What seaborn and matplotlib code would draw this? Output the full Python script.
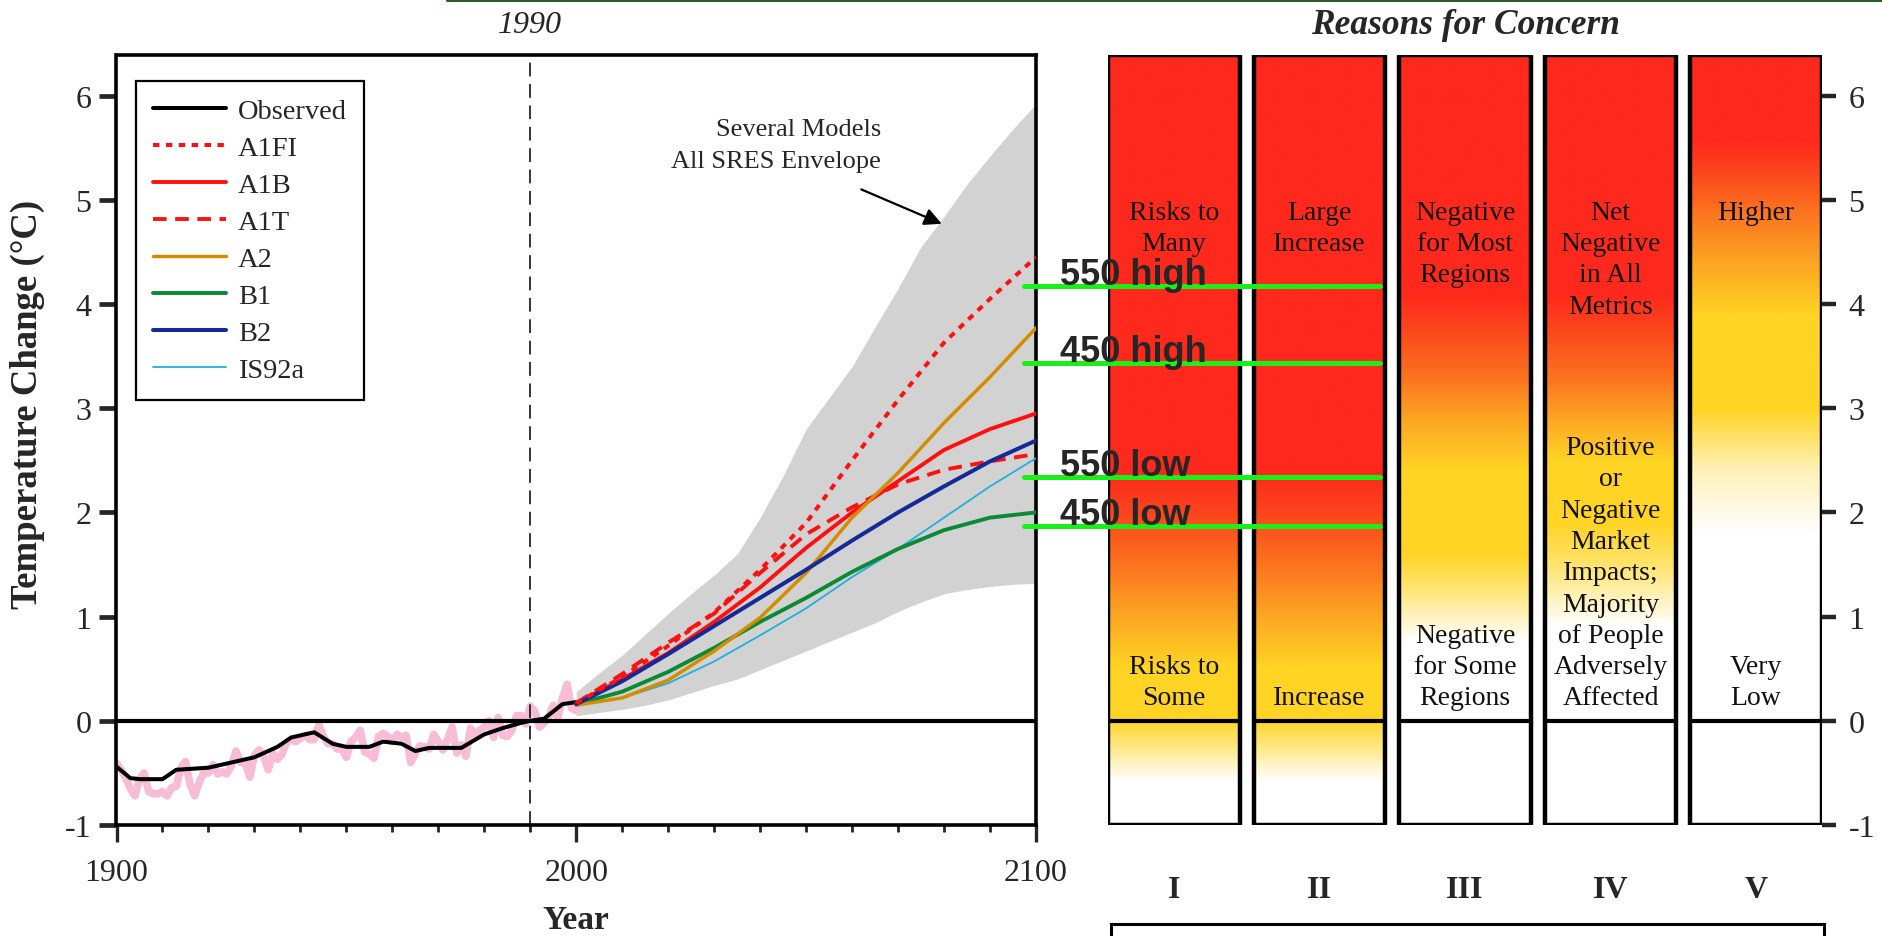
import numpy as np
import pandas as pd
import matplotlib
matplotlib.use("Agg")
import matplotlib.pyplot as plt
import seaborn as sns
from matplotlib.colors import LinearSegmentedColormap, to_rgb
from matplotlib.patches import Rectangle
from matplotlib.lines import Line2D

sns.set_style("white")
plt.rcParams["font.family"] = ["Liberation Serif", "DejaVu Serif"]
plt.rcParams["axes.unicode_minus"] = False

# ---------------- data ----------------
# smoothed observed record (deg C relative to 1990)
obs_years = [1900, 1903, 1905, 1910, 1913, 1920, 1925, 1930, 1935, 1938, 1943,
             1947, 1950, 1955, 1958, 1962, 1965, 1968, 1975, 1980, 1984, 1988,
             1990, 1993, 1997, 2000]
obs_smooth = [-0.44, -0.55, -0.56, -0.56, -0.47, -0.45, -0.40, -0.35, -0.25, -0.16,
              -0.11, -0.22, -0.25, -0.25, -0.20, -0.22, -0.29, -0.26, -0.26, -0.13,
              -0.07, -0.02, 0.00, 0.02, 0.16, 0.18]

# annual observed values 1900-2000
annual_years = list(range(1900, 2001))
annual_anom = [-0.41, -0.47, -0.55, -0.65, -0.72, -0.56, -0.50, -0.68, -0.70, -0.70,
               -0.68, -0.72, -0.64, -0.63, -0.45, -0.39, -0.61, -0.72, -0.59, -0.50,
               -0.50, -0.42, -0.51, -0.49, -0.51, -0.43, -0.29, -0.40, -0.40, -0.54,
               -0.33, -0.28, -0.34, -0.47, -0.31, -0.37, -0.32, -0.21, -0.18, -0.20,
               -0.17, -0.14, -0.18, -0.18, -0.04, -0.15, -0.22, -0.22, -0.27, -0.27,
               -0.35, -0.20, -0.16, -0.09, -0.30, -0.32, -0.36, -0.15, -0.12, -0.15,
               -0.20, -0.13, -0.16, -0.14, -0.40, -0.31, -0.24, -0.25, -0.27, -0.13,
               -0.20, -0.28, -0.18, -0.06, -0.31, -0.23, -0.34, -0.07, -0.15, -0.09,
               -0.06, 0.00, -0.16, 0.03, -0.14, -0.15, -0.09, 0.05, 0.05, -0.03,
               0.14, 0.09, -0.06, -0.02, 0.03, 0.15, 0.03, 0.22, 0.35, 0.12, 0.10]

# SRES scenario projections
proj_years = [2000, 2010, 2020, 2030, 2040, 2050, 2060, 2070, 2080, 2090, 2100]
a1fi = [0.17, 0.42, 0.72, 1.04, 1.45, 1.90, 2.50, 3.08, 3.63, 4.05, 4.45]
a1b = [0.17, 0.40, 0.65, 0.95, 1.28, 1.66, 2.00, 2.30, 2.60, 2.80, 2.95]
a1t = [0.17, 0.45, 0.75, 1.03, 1.42, 1.79, 2.05, 2.27, 2.41, 2.49, 2.56]
a2 = [0.15, 0.22, 0.39, 0.67, 0.99, 1.42, 1.95, 2.38, 2.86, 3.30, 3.77]
b1 = [0.16, 0.28, 0.47, 0.70, 0.95, 1.18, 1.43, 1.65, 1.83, 1.95, 2.00]
b2 = [0.16, 0.38, 0.64, 0.91, 1.18, 1.45, 1.73, 2.00, 2.25, 2.49, 2.69]
is92a = [0.15, 0.22, 0.36, 0.57, 0.82, 1.08, 1.38, 1.65, 1.95, 2.25, 2.52]

# all-SRES envelope
env_years = list(range(2000, 2101, 5))
env_upper = [0.28, 0.46, 0.63, 0.83, 1.03, 1.22, 1.40, 1.60, 1.95, 2.35, 2.80,
             3.10, 3.40, 3.78, 4.15, 4.55, 4.84, 5.15, 5.42, 5.68, 5.92]
env_lower = [0.05, 0.08, 0.11, 0.15, 0.20, 0.27, 0.34, 0.40, 0.49, 0.58, 0.67,
             0.76, 0.85, 0.94, 1.05, 1.14, 1.22, 1.26, 1.29, 1.31, 1.32]

# stabilisation markers
thresholds = [4.17, 3.43, 2.34, 1.87]
threshold_labels = ["550 high", "450 high", "550 low", "450 low"]

# reasons for concern
concern_ids = ["I", "II", "III", "IV", "V"]
concern_high = ["Risks to\nMany", "Large\nIncrease", "Negative\nfor Most\nRegions",
                "Net\nNegative\nin All\nMetrics", "Higher"]
concern_low = ["Risks to\nSome", "Increase", "Negative\nfor Some\nRegions",
               "Positive\nor\nNegative\nMarket\nImpacts;\nMajority\nof People\nAdversely\nAffected",
               "Very\nLow"]
W, LY, Y, O1, O2, O3, R = "#ffffff", "#ffe36a", "#ffd424", "#fca623", "#fb731e", "#fc431c", "#fe281c"
ember_stops = [
    [(-1.0, W), (-0.6, W), (0.0, Y), (0.5, Y), (1.0, O1), (1.5, O2), (2.0, O3), (2.4, R)],
    [(-1.0, W), (-0.6, W), (0.0, Y), (0.5, Y), (1.0, O1), (1.5, O2), (2.0, O3), (2.4, R)],
    [(0.0, W), (0.75, W), (1.3, LY), (1.6, Y), (2.4, Y), (2.9, O1), (3.3, O2), (3.8, O3), (4.1, R)],
    [(0.0, W), (0.9, W), (1.5, LY), (1.9, Y), (2.5, Y), (2.9, O1), (3.3, O2), (3.8, O3), (4.1, R)],
    [(0.0, W), (1.8, W), (2.4, "#fff2b8"), (3.0, Y), (3.9, Y), (4.4, O1), (4.9, O2), (5.3, O3), (5.6, R)],
]

# ---------------- figure ----------------
FW, FH = 1883, 937
fig = plt.figure(figsize=(FW / 100, FH / 100), dpi=100)
YMIN, YMAX = -1.0, 6.39

ax = fig.add_axes([116.5 / FW, 1 - 826 / FH, 919.5 / FW, 770 / FH])
ax2 = fig.add_axes([1108 / FW, 1 - 826 / FH, 714 / FW, 770 / FH])

# envelope
ax.fill_between(env_years, env_lower, env_upper, color="#d2d2d2", lw=0, zorder=1)

# observed
sns.lineplot(x=annual_years, y=annual_anom, color="#f8bcd6", lw=5.5, ax=ax, zorder=2)
sns.lineplot(x=obs_years, y=obs_smooth, color="black", lw=2.9, ax=ax, zorder=4,
             label="Observed")

series = [
    ("IS92a", is92a, "#22aede", 1.3, None),
    ("B1", b1, "#0a8a36", 2.8, None),
    ("A1T", a1t, "#ff1010", 2.8, (3.5, 2.2)),
    ("A1B", a1b, "#ff1010", 2.8, None),
    ("A2", a2, "#d48c00", 2.5, None),
    ("B2", b2, "#142a96", 2.9, None),
    ("A1FI", a1fi, "#ff1010", 2.9, (1.6, 1.6)),
]
for name, vals, col, lw, dash in series:
    sns.lineplot(x=proj_years, y=vals, color=col, lw=lw, ax=ax, zorder=5, label=name)
    if dash is not None:
        ax.lines[-1].set_dashes(dash)

ax.axhline(0, color="black", lw=3.0, zorder=6)
ax.axvline(1990, color="black", lw=1.1, dashes=(9, 5), zorder=6)

ax.set_xlim(1900, 2100)
ax.set_ylim(YMIN, YMAX)
ax.set_xticks([1900, 2000, 2100])
ax.set_xticks(range(1900, 2101, 10), minor=True)
ax.set_yticks(range(-1, 7))
ax.tick_params(axis="x", which="major", direction="out", length=12, width=2.4,
               labelsize=23, pad=12, bottom=True)
ax.tick_params(axis="x", which="minor", direction="out", length=5, width=2.0, bottom=True)
ax.tick_params(axis="y", which="major", direction="out", length=12, width=3.4,
               labelsize=23, pad=6, left=True)
for s in ax.spines.values():
    s.set_linewidth(2.6)
    s.set_color("black")
ax.set_xlabel("Year", fontsize=24, fontweight="bold", labelpad=12)
ax.set_ylabel("Temperature Change (\u00b0C)", fontsize=26.5, fontweight="bold")
ax.yaxis.set_label_coords(-0.078, 0.547)

# legend
handles, labels = ax.get_legend_handles_labels()
lookup = dict(zip(labels, handles))
order = ["Observed", "A1FI", "A1B", "A1T", "A2", "B1", "B2", "IS92a"]
leg = ax.legend([lookup[k] for k in order], order, loc="upper left",
                bbox_to_anchor=(136 / FW, 1 - 82 / FH), bbox_transform=fig.transFigure,
                borderaxespad=0, fontsize=20.5, handlelength=2.55, handletextpad=0.42,
                labelspacing=0.39, borderpad=0.6, fancybox=False, framealpha=1,
                edgecolor="black")
leg.get_frame().set_linewidth(1.6)

# annotations
ax.text(1990, 1.04, "1990", transform=ax.get_xaxis_transform(), ha="center",
        va="center", fontsize=23, style="italic")
ax.text(2066.3, 5.53, "Several Models\nAll SRES Envelope", ha="right", va="center",
        fontsize=19, linespacing=1.6, zorder=7)
ax.annotate("", xy=(2079.5, 4.77), xytext=(2062.0, 5.10),
            arrowprops=dict(arrowstyle="-|>", lw=1.6, color="black", mutation_scale=26,
                            shrinkA=0, shrinkB=0), zorder=7)

# stabilisation markers drawn across both panels
for val, lab in zip(thresholds, threshold_labels):
    ax.plot([2097.4, 2174.8], [val, val], color="#18f018", lw=3.6, clip_on=False, zorder=8)
    ax.text(2105.2, val + 0.02, lab, fontsize=26, fontweight="bold",
            family=["Liberation Sans", "DejaVu Sans"], ha="left", va="baseline",
            clip_on=False, zorder=9)
ax.set_zorder(3)
ax.patch.set_visible(False)

# ---------------- reasons for concern panel ----------------
bw = 0.907
grad = np.linspace(YMIN, YMAX, 600).reshape(-1, 1)
for i, stops in enumerate(ember_stops):
    pts = list(stops)
    if pts[0][0] > YMIN:
        pts = [(YMIN, pts[0][1])] + pts
    if pts[-1][0] < YMAX:
        pts = pts + [(YMAX, pts[-1][1])]
    cmap = LinearSegmentedColormap.from_list(
        f"ember{i}", [((v - YMIN) / (YMAX - YMIN), to_rgb(c)) for v, c in pts])
    ax2.imshow(grad, cmap=cmap, vmin=YMIN, vmax=YMAX, origin="lower", aspect="auto",
               extent=(i - bw / 2, i + bw / 2, YMIN, YMAX), interpolation="bilinear",
               zorder=1)
    ax2.add_patch(Rectangle((i - bw / 2, YMIN), bw, YMAX - YMIN, fill=False,
                            lw=3.2, ec="black", zorder=3))
    ax2.plot([i - bw / 2, i + bw / 2], [0, 0], color="black", lw=3.0, zorder=3)
    ax2.text(i, 5.0, concern_high[i], ha="center", va="top", fontsize=20,
             linespacing=1.33, color="#111111", zorder=4)
    ax2.text(i, 0.1, concern_low[i], ha="center", va="bottom", fontsize=20,
             linespacing=1.33, color="#111111", zorder=4)

ax2.set_xlim(-0.4535, 4.4535)
ax2.set_ylim(YMIN, YMAX)
for s in ax2.spines.values():
    s.set_visible(False)
ax2.set_xticks(range(5))
ax2.set_xticklabels(concern_ids, fontsize=23, fontweight="bold")
ax2.tick_params(axis="x", length=0, pad=36, bottom=False)
ax2.yaxis.tick_right()
ax2.set_yticks(range(-1, 7))
ax2.tick_params(axis="y", which="major", direction="out", length=10, width=3.2,
                labelsize=23, pad=9, right=True)
ax2.text(0.5, 1.04, "Reasons for Concern", transform=ax2.transAxes, ha="center",
         va="center", fontsize=25.5, fontweight="bold", style="italic")

# key box below the panel
fig.add_artist(Rectangle((1111 / FW, 1 - 960 / FH), 713 / FW, 35 / FH,
                         transform=fig.transFigure, fill=False, lw=2.2, ec="black"))
fig.text(1139 / FW, 1 - 936 / FH, "I     Risks to Unique and Threatened Systems",
         fontsize=20, va="top", ha="left")

# banner rule along the top edge
fig.add_artist(Line2D([447 / FW, 1.0], [1 - 1 / FH, 1 - 1 / FH], transform=fig.transFigure,
                      color="#2f5a2f", lw=2.2))

fig.savefig("out.png", dpi=100)
